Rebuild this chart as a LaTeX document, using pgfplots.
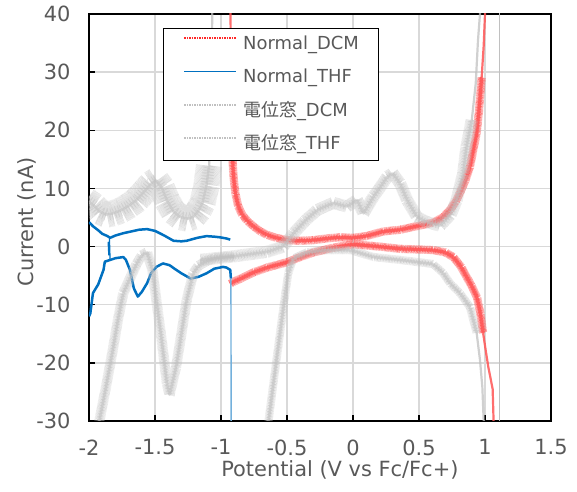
\documentclass[border=0pt]{standalone}
\usepackage{pgfplots}
\pgfplotsset{compat=1.18}
\usepackage{fontspec}
\setmainfont{DejaVu Sans}
\newfontfamily\jp{Noto Sans CJK JP}
\usetikzlibrary{decorations.pathmorphing}
\definecolor{txt}{RGB}{89,89,89}
\definecolor{redc}{RGB}{255,85,85}
\definecolor{bluec}{RGB}{0,112,192}
\definecolor{grayc}{RGB}{192,192,192}
\definecolor{gridc}{RGB}{217,217,217}
\tikzset{
  redband/.style={redc, line width=3bp, opacity=0.75, line join=round,
    postaction={draw, decorate, decoration={zigzag, amplitude=4bp, segment length=1.1bp}, line width=0.45bp},
    postaction={draw, decorate, decoration={zigzag, amplitude=2bp, segment length=2.7bp}, line width=0.45bp}},
  redthin/.style={redc, line width=2.2bp, opacity=0.85},
  gband/.style n args={2}{grayc, line width=2.5bp, opacity=0.5, line join=round,
    postaction={draw, decorate, decoration={zigzag, amplitude=#1, segment length=1.1bp}, line width=0.45bp},
    postaction={draw, decorate, decoration={zigzag, amplitude=#2, segment length=2.9bp}, line width=0.5bp}},
  gthin/.style={grayc, line width=2.2bp, opacity=0.75},
}
\begin{document}
\begin{tikzpicture}
\useasboundingbox (-89bp,-71bp) rectangle (488bp,421bp);
\begin{axis}[
  at={(0,0)}, anchor=south west,
  width=462bp, height=407bp, scale only axis,
  xmin=-2, xmax=1.5, ymin=-30, ymax=40,
  xtick={-2,-1.5,-1,-0.5,0,0.5,1,1.5},
  ytick={-30,-20,-10,0,10,20,30,40},
  grid=major, major grid style={gridc, line width=1.3bp},
  axis line style={black, line width=1.3bp},
  tick align=inside, tick pos=left, major tick length=6bp,
  tick style={black, line width=1.3bp},
  /pgf/number format/assume math mode=true,
  ticklabel style={font=\fontsize{21}{25}\selectfont, text=txt},
  yticklabel style={xshift=-15bp},
  xticklabel style={yshift=-15bp},
  xlabel={Potential (V vs Fc/Fc+)},
  ylabel={Current (nA)},
  label style={font=\fontsize{21}{25}\selectfont, text=txt},
  xlabel style={at={(axis description cs:0.543,-0.1369)}, anchor=base},
  ylabel style={at={(axis description cs:-0.1212,0.489)}, anchor=base},
  legend style={at={(axis description cs:0.16,0.9656)}, anchor=north west,
    draw=black, line width=1bp, fill=white, text=txt,
    font=\fontsize{18}{21}\selectfont,
    inner xsep=20bp, inner ysep=8bp, row sep=16.8bp,
    nodes={inner sep=0bp, text height=13bp, text depth=3.5bp},
    /tikz/every odd column/.append style={column sep=6bp}},
  legend cell align=left,
  legend image code/.code={\draw[#1] (0bp,6.5bp) -- (52bp,6.5bp);},
]
% ---- Normal_DCM (red)
\addplot[redthin, forget plot] coordinates {(-0.932,60) (-0.928,40) (-0.922,25) (-0.915,16)};
\addplot[redband, forget plot] coordinates {
(-0.915,16) (-0.905,12) (-0.89,9) (-0.87,7) (-0.84,5.5) (-0.8,4.4) (-0.75,3.4) (-0.7,2.6)
(-0.65,2.0) (-0.58,1.5) (-0.5,1.1) (-0.4,1.0) (-0.3,1.1) (-0.2,1.4) (-0.1,1.6) (0,1.5)
(0.1,1.8) (0.23,2.6) (0.36,2.9) (0.48,3.5) (0.606,4.1) (0.68,5.0) (0.735,6.3) (0.78,7.8)
(0.81,9.2) (0.85,11.3) (0.886,13.7) (0.91,16.5) (0.937,19.5) (0.955,23.5) (0.975,29.2)};
\addplot[redthin, forget plot] coordinates {(0.975,29.2) (0.99,34.5) (1.0,40) (1.01,50)};
\addplot[redband, forget plot] coordinates {
(-0.93,-6.4) (-0.91,-6.1) (-0.85,-5.5) (-0.75,-4.4) (-0.65,-3.6) (-0.5,-2.7) (-0.4,-1.8)
(-0.3,-1.0) (-0.15,-0.2) (0,0.4) (0.1,0.2) (0.2,0) (0.36,-0.4) (0.5,-0.5) (0.606,-0.6)
(0.7,-1.0) (0.76,-1.8) (0.82,-3.5) (0.86,-5.2) (0.9,-6.8) (0.94,-8.8) (0.965,-11.5) (0.986,-14.9)};
\addplot[redthin, forget plot] coordinates {(0.986,-14.9) (1.005,-17.8) (1.025,-20.7) (1.045,-23) (1.058,-24.5) (1.065,-30) (1.07,-35)};
% ---- Normal_THF (blue)
\addplot[bluec, line width=2.5bp, line join=round, forget plot] coordinates {
(-2,4.2) (-1.97,3.5) (-1.93,2.8) (-1.9,2.2) (-1.86,1.8) (-1.84,1.5) (-1.8,1.9) (-1.74,2.3)
(-1.68,2.6) (-1.62,2.9) (-1.56,3.0) (-1.5,2.7) (-1.43,1.9) (-1.36,1.0) (-1.3,0.9) (-1.26,1.0)
(-1.18,1.5) (-1.11,1.8) (-1.05,1.7) (-1.01,1.6) (-0.96,1.4) (-0.93,1.2)};
\addplot[bluec, line width=2.5bp, line join=round, forget plot] coordinates {
(-0.925,-5.5) (-0.93,-4.0) (-0.96,-3.6) (-0.985,-3.5) (-1.05,-3.8) (-1.11,-4.6) (-1.17,-5.2)
(-1.23,-5.5) (-1.3,-4.6) (-1.34,-4.0) (-1.39,-3.2) (-1.44,-2.9) (-1.49,-3.5) (-1.53,-4.6)
(-1.56,-6.3) (-1.6,-7.8) (-1.63,-8.6) (-1.66,-7.2) (-1.69,-4.0) (-1.72,-2.3) (-1.74,-1.8)
(-1.8,-2.0) (-1.84,-2.3) (-1.88,-2.6) (-1.89,-4.0) (-1.93,-6.5) (-1.97,-8.0) (-1.99,-11.5) (-2.0,-12)};
\addplot[bluec, line width=1.2bp, forget plot] coordinates {(-1.84,-2.4) (-1.845,1.3) (-1.85,-1.5) (-1.855,0.8)};
\addplot[bluec!55!white, line width=1.4bp, forget plot] coordinates {(-0.925,-5.5) (-0.922,-40)};
% ---- 電位窓_DCM (gray)
\addplot[gband={4bp}{2.5bp}, forget plot] coordinates {
(-0.64,-30) (-0.6,-23) (-0.55,-14.4) (-0.515,-8.4) (-0.49,-4.5) (-0.45,-2) (-0.35,-1) (-0.2,-0.6)
(-0.02,-0.6) (0.155,-1.8) (0.36,-2.3) (0.606,-3.0) (0.68,-4.5) (0.735,-6.3) (0.81,-8.0)
(0.886,-10.4) (0.937,-14.9)};
\addplot[gthin, forget plot] coordinates {(0.937,-14.9) (0.962,-19.5) (0.98,-24.2) (0.99,-30) (1.0,-40)};
\addplot[grayc, line width=1.3bp, forget plot] coordinates {(1.11,-40) (1.11,50)};
\addplot[gthin, forget plot] coordinates {(0.98,60) (0.962,40) (0.947,35.5) (0.93,28.1) (0.9,21.8)};
\addplot[gband={6bp}{3bp}, forget plot] coordinates {
(0.9,21.8) (0.86,17.2) (0.835,12.6) (0.785,8) (0.74,5.5) (0.66,3.6) (0.56,4.2) (0.485,5.1)
(0.41,8) (0.356,10.9) (0.3,12.6) (0.26,12) (0.2,10) (0.155,8.6) (0.1,6.5) (0.08,5.7) (0.03,8.0)
(-0.045,6.9) (-0.15,7.5) (-0.27,6.3) (-0.36,4.5) (-0.45,2.3) (-0.53,0) (-0.65,-0.9)
(-0.91,-1.7) (-1.16,-2.3)};
% ---- 電位窓_THF (gray)
\addplot[gband={13bp}{6bp}, forget plot] coordinates {
(-2.02,8) (-1.96,7) (-1.92,6) (-1.87,5.5) (-1.82,5.7) (-1.76,6.2) (-1.7,7) (-1.64,8) (-1.58,9.5)
(-1.53,10.8) (-1.49,11.4) (-1.45,10.2) (-1.41,8) (-1.36,6) (-1.31,5.1) (-1.25,4.8) (-1.21,5.1)
(-1.17,6.2) (-1.14,7.5) (-1.11,10.5) (-1.09,14)};
\addplot[gthin, forget plot] coordinates {(-1.09,14) (-1.08,20) (-1.072,30) (-1.066,40) (-1.06,60)};
\addplot[gband={5bp}{2.5bp}, forget plot] coordinates {
(-0.9,-1.7) (-0.96,-1.8) (-1.05,-2) (-1.11,-2.5) (-1.17,-3.3) (-1.21,-4.6) (-1.26,-9.2)
(-1.3,-15) (-1.34,-20.7) (-1.39,-25.5) (-1.41,-23.5) (-1.45,-16) (-1.49,-9.2) (-1.52,-4)
(-1.56,-1) (-1.6,-1.5) (-1.64,-3) (-1.69,-5.5) (-1.74,-8) (-1.78,-12.5) (-1.82,-17.8)
(-1.87,-24) (-1.92,-29.8) (-1.94,-34)};
% ---- legend
\addlegendimage{red!85!white, line width=1.5bp, densely dotted}
\addlegendentry{Normal\_DCM}
\addlegendimage{bluec, line width=1.8bp}
\addlegendentry{Normal\_THF}
\addlegendimage{grayc, line width=1.5bp, densely dotted}
\addlegendentry{{\jp 電位窓}\_DCM}
\addlegendimage{grayc, line width=1.5bp, densely dotted}
\addlegendentry{{\jp 電位窓}\_THF}
\end{axis}
\end{tikzpicture}
\end{document}
